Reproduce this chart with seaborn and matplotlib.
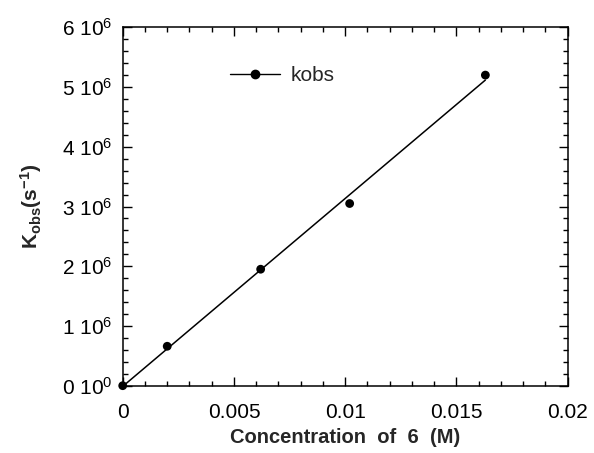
import numpy as np
import pandas as pd
import matplotlib
matplotlib.use("Agg")
import matplotlib.pyplot as plt
from matplotlib.lines import Line2D
from matplotlib.ticker import MultipleLocator, FixedLocator, FixedFormatter
import seaborn as sns

# Observed rate constants vs. concentration of 6
concentration = [0.0, 0.002, 0.0062, 0.0102, 0.0163]   # M
kobs = [0.0, 0.66e6, 1.95e6, 3.05e6, 5.20e6]             # s^-1

y_ticks = [0, 1e6, 2e6, 3e6, 4e6, 5e6, 6e6]
y_tick_labels = [r"0 $\mathregular{10^{0}}$"] + [
    rf"{i} $\mathregular{{10^{{6}}}}$" for i in range(1, 7)
]
x_ticks = [0, 0.005, 0.01, 0.015, 0.02]
x_tick_labels = ["0", "0.005", "0.01", "0.015", "0.02"]

sns.set_style("ticks")
plt.rcParams["font.family"] = ["Liberation Sans", "DejaVu Sans"]
plt.rcParams["mathtext.fontset"] = "custom"
plt.rcParams["mathtext.rm"] = "Liberation Sans"
plt.rcParams["mathtext.it"] = "Liberation Sans:italic"
plt.rcParams["mathtext.bf"] = "Liberation Sans:bold"

df = pd.DataFrame({"conc": concentration, "kobs": kobs})

fig = plt.figure(figsize=(5.94, 4.53), dpi=100)
ax = fig.add_axes([0.2066, 0.1486, 0.7491, 0.7911])

# least-squares line over the data range, plus the measured points
sns.regplot(
    data=df, x="conc", y="kobs", ax=ax, ci=None, truncate=True,
    scatter_kws=dict(s=40, color="black", edgecolor="none", alpha=1,
                     zorder=3, clip_on=False),
    line_kws=dict(color="black", lw=1.1),
)

ax.set_xlim(0, 0.02)
ax.set_ylim(0, 6e6)

ax.xaxis.set_major_locator(FixedLocator(x_ticks))
ax.xaxis.set_major_formatter(FixedFormatter(x_tick_labels))
ax.xaxis.set_minor_locator(MultipleLocator(0.001))
ax.yaxis.set_major_locator(FixedLocator(y_ticks))
ax.yaxis.set_major_formatter(FixedFormatter(y_tick_labels))
ax.yaxis.set_minor_locator(MultipleLocator(0.2e6))

ax.tick_params(which="both", direction="in", top=True, right=True,
               colors="black", width=1.0)
ax.tick_params(which="major", length=6.5)
ax.tick_params(which="minor", length=3.5)
ax.tick_params(axis="x", which="major", labelsize=15, pad=12.5)
ax.tick_params(axis="y", which="major", labelsize=15, pad=7.5)

for side in ax.spines.values():
    side.set_visible(True)
    side.set_color("black")
    side.set_linewidth(1.1)

ax.set_xlabel("Concentration  of  6  (M)", fontsize=14.5, fontweight="bold",
              labelpad=4)
ax.set_ylabel(r"$\mathbf{K_{obs}}$$\mathbf{(s^{-1})}$", fontsize=15,
              fontweight="bold", labelpad=13)

handle = Line2D([], [], color="black", lw=1.0, marker="o", markersize=6)
ax.legend([handle], ["kobs"], loc="center left",
          bbox_to_anchor=(0.24, 0.865), frameon=False, fontsize=15,
          handlelength=2.4, handletextpad=0.55, borderpad=0,
          borderaxespad=0)

fig.savefig("out.png", dpi=100)
